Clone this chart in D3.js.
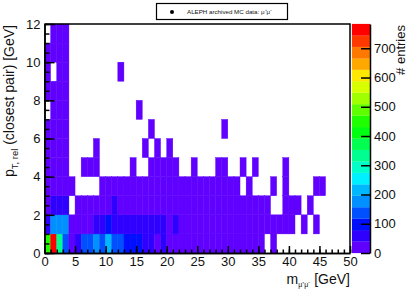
<!DOCTYPE html>
<html>
<head>
<meta charset="utf-8">
<script src="https://cdn.jsdelivr.net/npm/d3@7"></script>
<style>
    html, body { margin: 0; padding: 0; background: white; }
    svg { display: block; }
    text { font-family: "Liberation Sans", sans-serif; fill: #111; }
</style>
</head>
<body>
<div id="chart"></div>
<script>
// so entries per (mass bin, pT bin), 0 = empty cell. one array per pT row, 50 mass bins
const row0 = [450,770,330,130,30,60,130,130,175,130,205,130,130,100,100,100,60,60,20,60,25,25,20,20,20,20,20,15,15,15,15,15,10,10,10,10,0,5,0,0,0,0,0,0,0,0,0,0,0,0];
const row1 = [60,175,175,175,25,25,25,25,60,60,100,60,60,60,60,60,60,60,60,60,30,60,25,25,20,20,20,20,20,15,15,15,10,10,10,10,8,8,5,5,3,0,2,0,2,0,0,0,0,0];
const row2 = [20,60,60,60,0,10,10,10,10,10,10,50,15,15,15,15,15,15,15,15,15,12,12,12,12,10,10,10,10,10,8,8,8,6,6,5,4,0,0,3,2,2,0,1,0,0,0,0,0,0];
const row3 = [10,15,15,12,6,0,0,0,0,4,5,5,5,5,5,5,5,5,5,5,5,4,4,4,4,4,4,4,3,3,3,3,0,2,0,0,0,1,0,1,0,0,0,0,1,1,0,0,0,0];
const row4 = [6,8,8,5,0,0,1,1,2,0,0,0,0,0,1,0,0,2,1,1,1,1,0,0,1,0,0,0,1,1,0,0,1,0,1,0,0,0,0,1,0,0,0,0,0,0,0,0,0,0];
const row5 = [4,5,5,3,0,0,0,0,1,0,0,0,0,0,0,0,1,0,1,0,1,0,0,0,0,0,0,0,0,0,0,0,0,0,0,0,0,0,0,0,0,0,0,0,0,0,0,0,0,0];
const row6 = [3,4,4,2,0,0,0,0,0,0,0,0,0,0,0,0,0,1,0,0,0,0,0,0,0,0,0,0,0,1,0,0,0,0,0,0,0,0,0,0,0,0,0,0,0,0,0,0,0,0];
const row7 = [0,3,3,2,0,0,0,0,0,0,0,0,0,0,0,1,0,0,0,0,0,0,0,0,0,0,0,0,0,0,0,0,0,0,0,0,0,0,0,0,0,0,0,0,0,0,0,0,0,0];
const row8 = [1,2,2,1,0,0,0,0,0,0,0,0,0,0,0,0,0,0,0,0,0,0,0,0,0,0,0,0,0,0,0,0,0,0,0,0,0,0,0,0,0,0,0,0,0,0,0,0,0,0];
const row9 = [1,0,2,1,0,0,0,0,0,0,0,0,1,0,0,0,0,0,0,0,0,0,0,0,0,0,0,0,0,0,0,0,0,0,0,0,0,0,0,0,0,0,0,0,0,0,0,0,0,0];
const row10 = [1,2,1,1,0,0,0,0,0,0,0,0,0,0,0,0,0,0,0,0,0,0,0,0,0,0,0,0,0,0,0,0,0,0,0,0,0,0,0,0,0,0,0,0,0,0,0,0,0,0];
const row11 = [0,1,1,1,0,0,0,0,0,0,0,0,0,0,0,0,0,0,0,0,0,0,0,0,0,0,0,0,0,0,0,0,0,0,0,0,0,0,0,0,0,0,0,0,0,0,0,0,0,0];
const rows = [row0, row1, row2, row3, row4, row5, row6, row7, row8, row9, row10, row11];

const xTicks = [0, 5, 10, 15, 20, 25, 30, 35, 40, 45, 50];
const yTicks = [0, 2, 4, 6, 8, 10, 12];
const zTicks = [0, 100, 200, 300, 400, 500, 600, 700];
const palette = ["#6000ff","#3000ff","#0010ff","#0050ff","#0090ff","#00b8ff","#00f0ff","#00ffc8","#00ff90","#00ff50","#00ff10","#20ff00","#60ff00","#a0ff00","#d8ff00","#ffe800","#ffa800","#ff7800","#ff3800","#ff0000"];
const zMax = 783;

const svg = d3.select("#chart").append("svg")
    .attr("width", 407)
    .attr("height", 294);

const x = d3.scaleLinear().domain([0, 50]).range([44.5, 350]);
const y = d3.scaleLinear().domain([0, 12]).range([253, 24]);
const z = d3.scaleLinear().domain([0, zMax]).range([253, 24]);
const color = d3.scaleQuantize().domain([0, zMax]).range(palette);

// cellen, thin same-colour stroke closes the seams between neighbours
const cells = rows.flatMap((r, j) => r.map((v, i) => ({ i, j, v }))).filter(d => d.v > 0);
svg.append("g").selectAll("rect")
    .data(cells)
    .enter().append("rect")
    .attr("x", d => x(d.i))
    .attr("y", d => y(d.j + 1))
    .attr("width", d => x(d.i + 1) - x(d.i))
    .attr("height", d => y(d.j) - y(d.j + 1))
    .attr("fill", d => color(d.v))
    .attr("stroke", d => color(d.v))
    .attr("stroke-width", 0.4);

// color bar
svg.append("g").selectAll("rect")
    .data(palette)
    .enter().append("rect")
    .attr("x", 352)
    .attr("y", (d, i) => z((i + 1) * zMax / palette.length))
    .attr("width", 18)
    .attr("height", (d, i) => z(i * zMax / palette.length) - z((i + 1) * zMax / palette.length))
    .attr("fill", d => d)
    .attr("stroke", d => d)
    .attr("stroke-width", 0.2);

function styleAxis(g, fontSize) {
    g.selectAll("path, line").attr("stroke", "#000").attr("stroke-width", 1.5);
    g.selectAll("text").style("font-size", fontSize + "px");
}

// x axis, minor then major
svg.append("g")
    .attr("transform", "translate(0,253)")
    .call(d3.axisTop(x).tickValues(d3.range(0, 51)).tickSize(3.5).tickSizeOuter(0).tickFormat(""))
    .call(styleAxis, 13);
svg.append("g")
    .attr("transform", "translate(0,253)")
    .call(d3.axisBottom(x).tickValues(xTicks).tickSize(0).tickPadding(4).tickSizeOuter(0))
    .call(g => g.selectAll("line").attr("y2", -7))
    .call(styleAxis, 13);

// y axis
svg.append("g")
    .attr("transform", "translate(44.5,0)")
    .call(d3.axisRight(y).tickValues(d3.range(0, 12.5, 0.5)).tickSize(5).tickSizeOuter(0).tickFormat(""))
    .call(styleAxis, 13);
svg.append("g")
    .attr("transform", "translate(44.5,0)")
    .call(d3.axisLeft(y).tickValues(yTicks).tickSize(0).tickPadding(4).tickSizeOuter(0))
    .call(g => g.selectAll("line").attr("x2", 10))
    .call(styleAxis, 13);

// frame lines top and right
svg.append("path")
    .attr("d", `M${x(0)},${y(12)}H${x(50)}V${y(0)}`)
    .attr("fill", "none")
    .attr("stroke", "#000")
    .attr("stroke-width", 1.5);

// z axis
svg.append("g")
    .attr("transform", "translate(370,0)")
    .call(d3.axisRight(z).tickValues(zTicks).tickSize(0).tickPadding(4).tickSizeOuter(0))
    .call(g => g.selectAll("line").attr("x2", -9))
    .call(styleAxis, 13);

// axis titles
const xTitle = svg.append("text")
    .attr("x", 350)
    .attr("y", 284)
    .attr("text-anchor", "end")
    .style("font-size", "14px");
xTitle.append("tspan").text("m");
xTitle.append("tspan").attr("dy", 3).style("font-size", "7px").text("μ⁺μ⁻");
xTitle.append("tspan").attr("dy", -3).text(" [GeV]");

const yTitle = svg.append("text")
    .attr("transform", "translate(14,25) rotate(-90)")
    .attr("text-anchor", "end")
    .style("font-size", "14px");
yTitle.append("tspan").text("p");
yTitle.append("tspan").attr("dy", 4).style("font-size", "9.5px").text("T, rel");
yTitle.append("tspan").attr("dy", -4).text(" (closest pair) [GeV]");

svg.append("text")
    .attr("transform", "translate(405,25) rotate(-90)")
    .attr("text-anchor", "end")
    .style("font-size", "13px")
    .text("# entries");

// legend
svg.append("rect")
    .attr("x", 156.5)
    .attr("y", 3.5)
    .attr("width", 131)
    .attr("height", 16)
    .attr("fill", "white")
    .attr("stroke", "#000")
    .attr("stroke-width", 1.2);
svg.append("circle")
    .attr("cx", 172)
    .attr("cy", 12)
    .attr("r", 2)
    .attr("fill", "#000");
svg.append("text")
    .attr("x", 187)
    .attr("y", 14)
    .style("font-size", "6.2px")
    .text("ALEPH archived MC data: μ⁺μ⁻");
</script>
</body>
</html>
